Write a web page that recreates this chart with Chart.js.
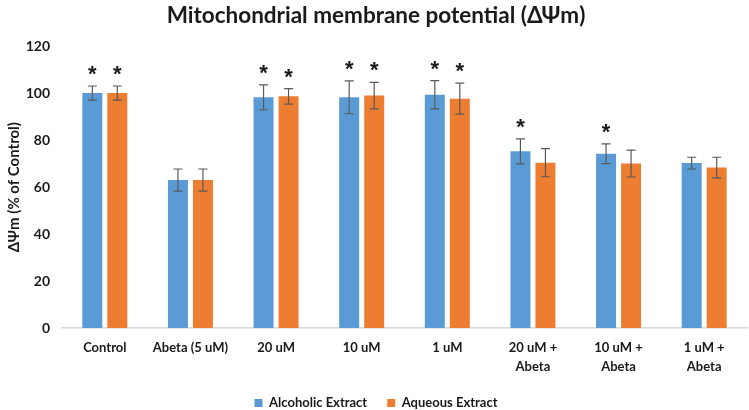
<!DOCTYPE html>
<html>
<head>
<meta charset="utf-8">
<script src="https://cdn.jsdelivr.net/npm/chart.js@4"></script>
<style>
  html, body { margin: 0; padding: 0; background: #fff; }
  #wrap { width: 749px; height: 410px; }
</style>
</head>
<body>
<div id="wrap"><canvas id="chart" width="749" height="410"></canvas></div>
<script>
// Chart data
const categories = ['Control', 'Abeta (5 uM)', '20 uM', '10 uM', '1 uM',
  ['20 uM +', 'Abeta'], ['10 uM +', 'Abeta'], ['1 uM +', 'Abeta']];
const alcoholic = [100, 63, 98.2, 98.2, 99.3, 75.2, 74.2, 70.2];
const alcoholicErr = [3, 4.7, 5.3, 7, 6, 5.3, 4.2, 2.5];
const aqueous = [100, 63, 98.6, 98.9, 97.6, 70.4, 70, 68.3];
const aqueousErr = [3, 4.7, 3.3, 5.6, 6.6, 6, 5.7, 4.4];
// significance stars (1 = star drawn above the bar)
const alcoholicSig = [1, 0, 1, 1, 1, 1, 1, 0];
const aqueousSig = [1, 0, 1, 1, 1, 0, 0, 0];
const yTicks = [0, 20, 40, 60, 80, 100, 120];

const FONT = "Lato, 'Liberation Sans', sans-serif";

// Error bars + asterisks
const errorBars = {
  id: 'errorBars',
  afterDatasetsDraw(chart) {
    const ctx = chart.ctx;
    const y = chart.scales.y;
    chart.data.datasets.forEach((ds, i) => {
      const meta = chart.getDatasetMeta(i);
      meta.data.forEach((bar, j) => {
        const v = ds.data[j];
        const e = ds.errors[j];
        const top = y.getPixelForValue(v + e);
        const bot = y.getPixelForValue(v - e);
        ctx.save();
        ctx.strokeStyle = '#595959';
        ctx.lineWidth = 1.2;
        ctx.beginPath();
        ctx.moveTo(bar.x, top); ctx.lineTo(bar.x, bot);
        ctx.moveTo(bar.x - 4.5, top); ctx.lineTo(bar.x + 4.5, top);
        ctx.moveTo(bar.x - 4.5, bot); ctx.lineTo(bar.x + 4.5, bot);
        ctx.stroke();
        if (ds.sig[j]) {
          ctx.fillStyle = '#1a1a1a';
          ctx.font = "bold 22px 'Liberation Sans', sans-serif";
          ctx.textAlign = 'center';
          ctx.textBaseline = 'alphabetic';
          ctx.fillText('*', bar.x, top - 5);
        }
        ctx.restore();
      });
    });
  }
};

new Chart(document.getElementById('chart'), {
  type: 'bar',
  data: {
    labels: categories,
    datasets: [
      {
        label: 'Alcoholic Extract',
        data: alcoholic,
        errors: alcoholicErr,
        sig: alcoholicSig,
        backgroundColor: '#5B9BD5',
        categoryPercentage: 0.584,
        barPercentage: 0.8
      },
      {
        label: 'Aqueous Extract',
        data: aqueous,
        errors: aqueousErr,
        sig: aqueousSig,
        backgroundColor: '#ED7D31',
        categoryPercentage: 0.584,
        barPercentage: 0.8
      }
    ]
  },
  options: {
    responsive: false,
    animation: false,
    layout: { padding: { left: 5, right: 2, top: 0, bottom: -9.5 } },
    plugins: {
      title: {
        display: true,
        text: 'Mitochondrial membrane potential (ΔΨm)',
        color: '#1a1a1a',
        font: { family: FONT, size: 22.5, weight: 'bold' },
        padding: { top: 2, bottom: 17 }
      },
      legend: {
        position: 'bottom',
        labels: {
          color: '#1a1a1a',
          boxWidth: 8,
          boxHeight: 8,
          padding: 20,
          font: { family: FONT, size: 13, weight: 'bold' }
        }
      },
      tooltip: { enabled: false }
    },
    scales: {
      x: {
        afterFit(axis) { axis.height = 48.3; },
        grid: { display: false, drawTicks: false },
        border: { display: true, color: '#d9d9d9', width: 1.5 },
        ticks: {
          color: '#1a1a1a',
          maxRotation: 0,
          autoSkip: false,
          padding: 11,
          font: { family: FONT, size: 13, weight: 'bold', lineHeight: 1.4 }
        }
      },
      y: {
        min: 0,
        max: 120,
        afterBuildTicks(axis) { axis.ticks = yTicks.map(v => ({ value: v })); },
        afterFit(axis) { axis.width = 57; },
        grid: { display: false, drawTicks: false },
        border: { display: false },
        title: {
          display: true,
          text: 'ΔΨm (% of Control)',
          color: '#1a1a1a',
          font: { family: FONT, size: 15, weight: 'bold' },
          padding: { top: 0, bottom: 0 }
        },
        ticks: {
          color: '#1a1a1a',
          padding: 12,
          font: { family: FONT, size: 14, weight: 'bold' }
        }
      }
    }
  },
  plugins: [errorBars]
});
</script>
</body>
</html>
